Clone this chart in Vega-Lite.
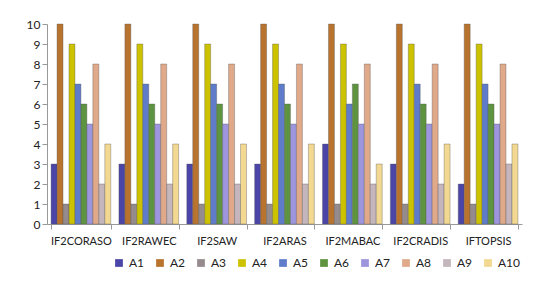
{
  "$schema": "https://vega.github.io/schema/vega-lite/v6.json",
  "width": 475,
  "height": 200,
  "padding": {"left": 26, "top": 18, "right": 10, "bottom": 5},
  "background": "white",
  "data": {"values": [
    {"m":"IF2CORASO","a":"A1","v":3},{"m":"IF2CORASO","a":"A2","v":10},{"m":"IF2CORASO","a":"A3","v":1},{"m":"IF2CORASO","a":"A4","v":9},{"m":"IF2CORASO","a":"A5","v":7},{"m":"IF2CORASO","a":"A6","v":6},{"m":"IF2CORASO","a":"A7","v":5},{"m":"IF2CORASO","a":"A8","v":8},{"m":"IF2CORASO","a":"A9","v":2},{"m":"IF2CORASO","a":"A10","v":4},
    {"m":"IF2RAWEC","a":"A1","v":3},{"m":"IF2RAWEC","a":"A2","v":10},{"m":"IF2RAWEC","a":"A3","v":1},{"m":"IF2RAWEC","a":"A4","v":9},{"m":"IF2RAWEC","a":"A5","v":7},{"m":"IF2RAWEC","a":"A6","v":6},{"m":"IF2RAWEC","a":"A7","v":5},{"m":"IF2RAWEC","a":"A8","v":8},{"m":"IF2RAWEC","a":"A9","v":2},{"m":"IF2RAWEC","a":"A10","v":4},
    {"m":"IF2SAW","a":"A1","v":3},{"m":"IF2SAW","a":"A2","v":10},{"m":"IF2SAW","a":"A3","v":1},{"m":"IF2SAW","a":"A4","v":9},{"m":"IF2SAW","a":"A5","v":7},{"m":"IF2SAW","a":"A6","v":6},{"m":"IF2SAW","a":"A7","v":5},{"m":"IF2SAW","a":"A8","v":8},{"m":"IF2SAW","a":"A9","v":2},{"m":"IF2SAW","a":"A10","v":4},
    {"m":"IF2ARAS","a":"A1","v":3},{"m":"IF2ARAS","a":"A2","v":10},{"m":"IF2ARAS","a":"A3","v":1},{"m":"IF2ARAS","a":"A4","v":9},{"m":"IF2ARAS","a":"A5","v":7},{"m":"IF2ARAS","a":"A6","v":6},{"m":"IF2ARAS","a":"A7","v":5},{"m":"IF2ARAS","a":"A8","v":8},{"m":"IF2ARAS","a":"A9","v":2},{"m":"IF2ARAS","a":"A10","v":4},
    {"m":"IF2MABAC","a":"A1","v":4},{"m":"IF2MABAC","a":"A2","v":10},{"m":"IF2MABAC","a":"A3","v":1},{"m":"IF2MABAC","a":"A4","v":9},{"m":"IF2MABAC","a":"A5","v":6},{"m":"IF2MABAC","a":"A6","v":7},{"m":"IF2MABAC","a":"A7","v":5},{"m":"IF2MABAC","a":"A8","v":8},{"m":"IF2MABAC","a":"A9","v":2},{"m":"IF2MABAC","a":"A10","v":3},
    {"m":"IF2CRADIS","a":"A1","v":3},{"m":"IF2CRADIS","a":"A2","v":10},{"m":"IF2CRADIS","a":"A3","v":1},{"m":"IF2CRADIS","a":"A4","v":9},{"m":"IF2CRADIS","a":"A5","v":7},{"m":"IF2CRADIS","a":"A6","v":6},{"m":"IF2CRADIS","a":"A7","v":5},{"m":"IF2CRADIS","a":"A8","v":8},{"m":"IF2CRADIS","a":"A9","v":2},{"m":"IF2CRADIS","a":"A10","v":4},
    {"m":"IFTOPSIS","a":"A1","v":2},{"m":"IFTOPSIS","a":"A2","v":10},{"m":"IFTOPSIS","a":"A3","v":1},{"m":"IFTOPSIS","a":"A4","v":9},{"m":"IFTOPSIS","a":"A5","v":7},{"m":"IFTOPSIS","a":"A6","v":6},{"m":"IFTOPSIS","a":"A7","v":5},{"m":"IFTOPSIS","a":"A8","v":8},{"m":"IFTOPSIS","a":"A9","v":3},{"m":"IFTOPSIS","a":"A10","v":4}
  ]},
  "mark": {"type": "bar", "stroke": "#555555", "strokeWidth": 0.6, "strokeOpacity": 0.6},
  "encoding": {
    "x": {"field": "m", "type": "nominal", "sort": null,
          "scale": {"paddingInner": 0.12, "paddingOuter": 0.06},
          "axis": {"title": null, "labelAngle": 0, "labelFont": "Lato", "labelFontSize": 11, "labelColor": "#222222", "labelPadding": 6, "domainColor": "#999999", "tickColor": "#999999", "tickBand": "extent", "tickSize": 5}},
    "xOffset": {"field": "a", "type": "nominal", "sort": ["A1","A2","A3","A4","A5","A6","A7","A8","A9","A10"]},
    "y": {"field": "v", "type": "quantitative",
          "scale": {"domain": [0, 10], "nice": false},
          "axis": {"title": null, "grid": false, "tickCount": 10, "labelFont": "Lato", "labelFontSize": 12, "labelColor": "#222222", "domainColor": "#999999", "tickColor": "#999999"}},
    "color": {"field": "a", "type": "nominal",
              "sort": ["A1","A2","A3","A4","A5","A6","A7","A8","A9","A10"],
              "scale": {"domain": ["A1","A2","A3","A4","A5","A6","A7","A8","A9","A10"],
                        "range": ["#4B45A8","#B8732E","#958A8C","#CCC200","#5E7CC9","#5E9340","#9D95DE","#DFA98A","#C5B6BD","#F2D890"]},
              "legend": {"title": null, "orient": "none", "legendX": 66, "legendY": 233, "direction": "horizontal", "symbolType": "square", "symbolSize": 60, "symbolStrokeWidth": 0, "labelFont": "Lato", "labelFontSize": 12, "labelColor": "#222222", "columnPadding": 9}}
  },
  "config": {"view": {"stroke": null}}
}
